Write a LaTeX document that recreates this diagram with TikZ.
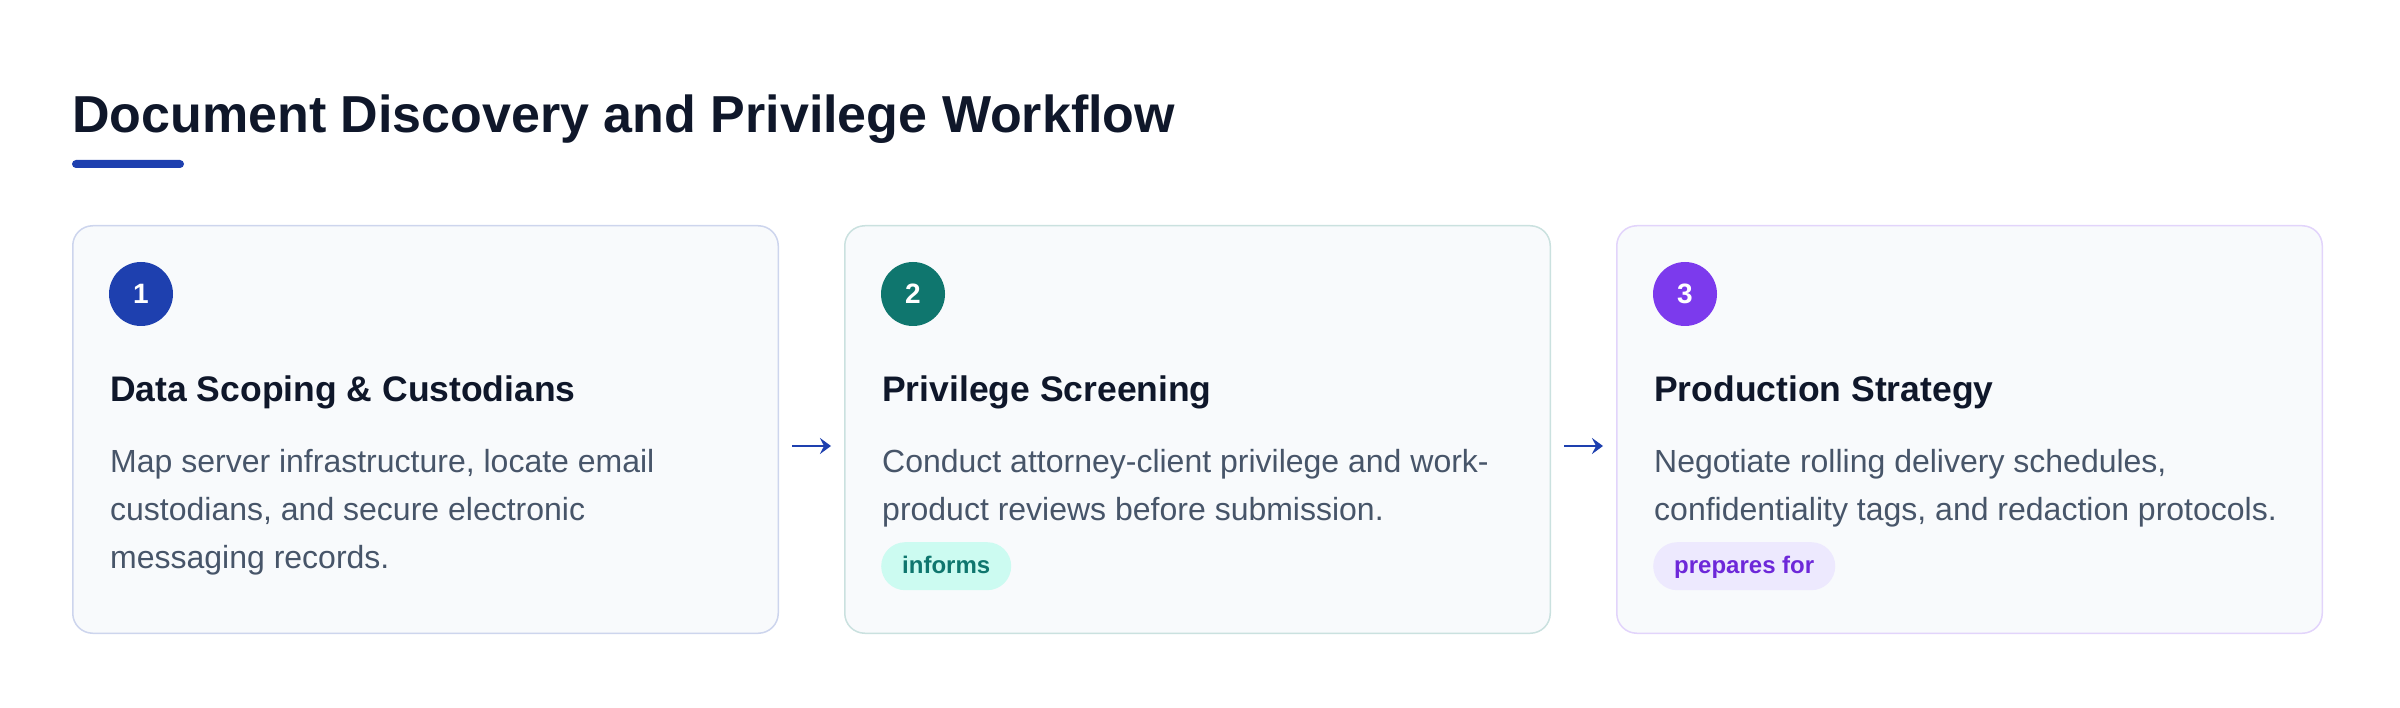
\documentclass[tikz,border=0pt]{standalone}
\usepackage{fontspec}
\setmainfont{Liberation Sans}
\usetikzlibrary{positioning, arrows.meta}
\definecolor{titlenavy}{RGB}{15, 23, 42}
\definecolor{bodyslate}{RGB}{71, 85, 105}
\definecolor{cardfill}{RGB}{248, 250, 252}
\definecolor{stepblue}{RGB}{30, 64, 175}
\definecolor{stepteal}{RGB}{15, 118, 110}
\definecolor{stepviolet}{RGB}{124, 58, 237}
\definecolor{tealtint}{RGB}{204, 251, 241}
\definecolor{violettint}{RGB}{237, 233, 254}
\definecolor{violetdeep}{RGB}{109, 40, 217}

\begin{document}
\begin{tikzpicture}[
    x=1pt, y=-1pt,
    node distance=65pt,
    card/.style={rectangle, rounded corners=20pt, minimum width=705.5pt, minimum height=407.5pt, line width=1.5pt, fill=cardfill, inner sep=0pt},
    numdot/.style={circle, minimum size=64pt, inner sep=0pt, text=white, font=\fontsize{28}{28}\selectfont\bfseries},
    heading/.style={anchor=base west, inner sep=0pt, text=titlenavy, font=\fontsize{35.5}{42}\selectfont\bfseries},
    body/.style={anchor=base west, inner sep=0pt, align=left, text=bodyslate, font=\fontsize{32}{48}\selectfont},
    badge/.style={anchor=north west, rectangle, rounded corners=24pt, minimum height=48pt, inner xsep=21pt, inner ysep=0pt, text height=19pt, text depth=5pt, font=\fontsize{24}{24}\selectfont\bfseries},
    flow/.style={line width=2pt, -{Stealth[length=11pt, width=16pt, inset=4pt]}, draw=stepblue, shorten <=13pt, shorten >=13pt}
]

\useasboundingbox (0,0) rectangle (2400,708);

\node (title) [anchor=base west, inner sep=0pt, text=titlenavy, font=\fontsize{52}{60}\selectfont\bfseries] at (72,133) {Document Discovery and Privilege Workflow};
\fill [stepblue, rounded corners=4pt] (72,160) rectangle (184,168);

\node (scoping) [card, draw=stepblue!22, anchor=north west] at (72,225) {};
\node (screening) [card, draw=stepteal!22, right=of scoping] {};
\node (production) [card, draw=stepviolet!22, right=of screening] {};

% body nodes sit on the baseline of their last line
\node (dot1) [numdot, fill=stepblue] at ([shift={(69pt,-69pt)}]scoping.north west) {1};
\node (head1) [heading] at ([shift={(38pt,-176pt)}]scoping.north west) {Data Scoping \& Custodians};
\node (text1) [body] at ([shift={(38pt,-343pt)}]scoping.north west) {Map server infrastructure, locate email\\custodians, and secure electronic\\messaging records.};

\node (dot2) [numdot, fill=stepteal] at ([shift={(69pt,-69pt)}]screening.north west) {2};
\node (head2) [heading] at ([shift={(38pt,-176pt)}]screening.north west) {Privilege Screening};
\node (text2) [body] at ([shift={(38pt,-295pt)}]screening.north west) {Conduct attorney-client privilege and work-\\product reviews before submission.};
\node (tag2) [badge, fill=tealtint, text=stepteal] at ([shift={(37pt,-317pt)}]screening.north west) {informs};

\node (dot3) [numdot, fill=stepviolet] at ([shift={(69pt,-69pt)}]production.north west) {3};
\node (head3) [heading] at ([shift={(38pt,-176pt)}]production.north west) {Production Strategy};
\node (text3) [body] at ([shift={(38pt,-295pt)}]production.north west) {Negotiate rolling delivery schedules,\\confidentiality tags, and redaction protocols.};
\node (tag3) [badge, fill=violettint, text=violetdeep] at ([shift={(37pt,-317pt)}]production.north west) {prepares for};

\draw [flow] ([yshift=-16.5pt]scoping.east) -- ([yshift=-16.5pt]screening.west);
\draw [flow] ([yshift=-16.5pt]screening.east) -- ([yshift=-16.5pt]production.west);

\end{tikzpicture}
\end{document}
